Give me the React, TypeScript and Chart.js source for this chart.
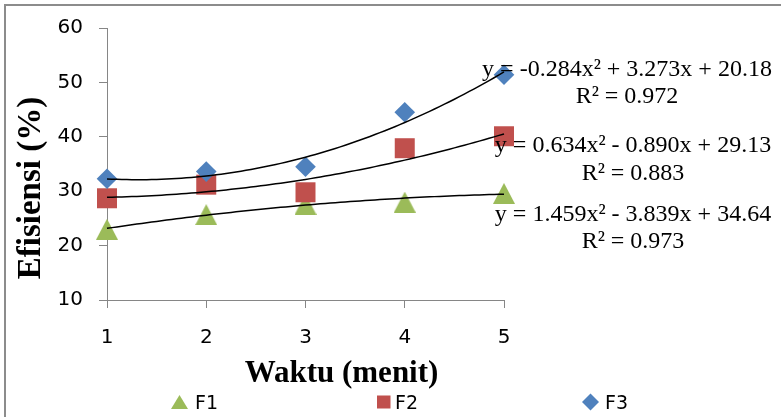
import React, { useEffect, useRef } from 'react';
import { Chart, registerables } from 'chart.js';

Chart.register(...registerables);

// ---- data ----
const waktu = [1, 2, 3, 4, 5];
const f1 = [23.0, 25.7, 27.6, 28.0, 29.6];
const f2 = [28.7, 31.2, 29.8, 37.9, 40.1];
const f3 = [32.3, 33.6, 34.5, 44.5, 51.4];
// polynomial trendline coefficients [a, b, c] for y = a x^2 + b x + c
const trendF1 = [-0.284, 3.273, 20.18];
const trendF2 = [0.634, -0.89, 29.13];
const trendF3 = [1.459, -3.839, 34.64];
const yTicks = [10, 20, 30, 40, 50, 60];
const xTicks = [1, 2, 3, 4, 5];
const seriesNames = ['F1', 'F2', 'F3'];
const equationTexts = [
  'y = -0.284x² + 3.273x + 20.18',
  'y = 0.634x² - 0.890x + 29.13',
  'y = 1.459x² - 3.839x + 34.64',
];
const r2Texts = ['R² = 0.972', 'R² = 0.883', 'R² = 0.973'];
const xTitle = 'Waktu (menit)';
const yTitle = 'Efisiensi (%)';

const GREEN = '#9BBB59';
const RED = '#C0504D';
const BLUE = '#4F81BD';
const AXIS = '#868686';

function makeTriangle(w: number, h: number, color: string) {
  const c = document.createElement('canvas');
  c.width = w;
  c.height = h;
  const g = c.getContext('2d')!;
  g.fillStyle = color;
  g.beginPath();
  g.moveTo(w / 2, 0);
  g.lineTo(w, h);
  g.lineTo(0, h);
  g.closePath();
  g.fill();
  return c;
}

function trendPoints(c: number[]) {
  const pts: { x: number; y: number }[] = [];
  const lo = waktu[0];
  const hi = waktu[waktu.length - 1];
  const n = 80;
  for (let i = 0; i <= n; i++) {
    const x = lo + ((hi - lo) * i) / n;
    pts.push({ x, y: c[0] * x * x + c[1] * x + c[2] });
  }
  return pts;
}

const overlay = {
  id: 'overlay',
  beforeDraw(chart: any) {
    const ctx = chart.ctx as CanvasRenderingContext2D;
    ctx.save();
    ctx.fillStyle = '#ffffff';
    ctx.fillRect(0, 0, chart.width, chart.height);
    ctx.fillStyle = '#8c8c8c';
    ctx.fillRect(4, 4, chart.width - 4, 2);
    ctx.fillRect(4, 4, 2, chart.height - 4);
    ctx.restore();
  },
  afterDraw(chart: any) {
    const ctx = chart.ctx as CanvasRenderingContext2D;
    ctx.save();
    ctx.fillStyle = '#000000';
    // trendline equations
    ctx.font = '24px "Liberation Serif"';
    ctx.textAlign = 'center';
    ctx.textBaseline = 'alphabetic';
    const eqPos = [
      [627, 76, 103],
      [633, 152, 180],
      [633, 221, 248],
    ];
    equationTexts.forEach((t, i) => {
      ctx.fillText(t, eqPos[i][0], eqPos[i][1]);
      ctx.fillText(r2Texts[i], eqPos[i][0], eqPos[i][2]);
    });
    // axis titles
    ctx.font = 'bold 31px "Liberation Serif"';
    ctx.fillText(xTitle, 341.5, 382);
    ctx.save();
    ctx.font = 'bold 33px "Liberation Serif"';
    ctx.translate(31, 188);
    ctx.rotate(-Math.PI / 2);
    ctx.textBaseline = 'middle';
    ctx.fillText(yTitle, 0, 0);
    ctx.restore();
    // legend
    const ly = 402;
    ctx.fillStyle = GREEN;
    ctx.beginPath();
    ctx.moveTo(179.5, ly - 7);
    ctx.lineTo(188, ly + 7);
    ctx.lineTo(171, ly + 7);
    ctx.closePath();
    ctx.fill();
    ctx.fillStyle = RED;
    ctx.fillRect(377, ly - 6.5, 13.5, 13);
    ctx.fillStyle = BLUE;
    ctx.beginPath();
    ctx.moveTo(590.5, ly - 8.5);
    ctx.lineTo(599, ly);
    ctx.lineTo(590.5, ly + 8.5);
    ctx.lineTo(582, ly);
    ctx.closePath();
    ctx.fill();
    ctx.fillStyle = '#000000';
    ctx.font = '19px "DejaVu Sans"';
    ctx.textAlign = 'left';
    ctx.textBaseline = 'alphabetic';
    const lx = [195, 395, 605];
    seriesNames.forEach((n, i) => ctx.fillText(n, lx[i], 408.5));
    ctx.restore();
  },
};

export default function App() {
  const ref = useRef<HTMLCanvasElement | null>(null);
  useEffect(() => {
    document.body.style.margin = '0';
    const canvas = ref.current!;
    const tri = makeTriangle(22, 21, GREEN);
    const toXY = (arr: number[]) => arr.map((v, i) => ({ x: waktu[i], y: v }));
    const trendDs = (c: number[]) => ({
      label: 'trend',
      data: trendPoints(c),
      showLine: true,
      borderColor: '#000000',
      borderWidth: 1.5,
      pointRadius: 0,
      pointHoverRadius: 0,
      fill: false,
      tension: 0,
      clip: false,
      order: 0,
    });
    const chart = new Chart(canvas, {
      type: 'scatter',
      data: {
        datasets: [
          {
            label: seriesNames[0],
            data: toXY(f1),
            pointStyle: tri as any,
            backgroundColor: GREEN,
            borderColor: GREEN,
            pointBorderWidth: 0,
            clip: false,
            order: 3,
          },
          {
            label: seriesNames[1],
            data: toXY(f2),
            pointStyle: 'rect',
            pointRadius: 14.14,
            backgroundColor: RED,
            borderColor: RED,
            pointBorderWidth: 0,
            clip: false,
            order: 2,
          },
          {
            label: seriesNames[2],
            data: toXY(f3),
            pointStyle: 'rectRot',
            pointRadius: 10.3,
            backgroundColor: BLUE,
            borderColor: BLUE,
            pointBorderWidth: 0,
            clip: false,
            order: 1,
          },
          trendDs(trendF1) as any,
          trendDs(trendF2) as any,
          trendDs(trendF3) as any,
        ],
      },
      options: {
        animation: false,
        responsive: false,
        maintainAspectRatio: false,
        layout: { padding: { left: 0, top: 22, right: 0, bottom: 0 } },
        plugins: {
          legend: { display: false },
          tooltip: { enabled: false },
          title: { display: false },
        },
        scales: {
          x: {
            type: 'linear',
            position: 'bottom',
            min: 1,
            max: 5,
            afterBuildTicks: (s: any) => {
              s.ticks = xTicks.map((v) => ({ value: v }));
            },
            afterFit: (s: any) => {
              s.height = 117;
            },
            ticks: {
              color: '#000000',
              font: { family: 'DejaVu Sans', size: 20 },
              padding: 18,
              maxRotation: 0,
            },
            grid: {
              drawOnChartArea: false,
              drawTicks: true,
              tickLength: 8,
              color: AXIS,
              lineWidth: 1,
            },
            border: { display: true, color: AXIS, width: 1 },
          },
          y: {
            type: 'linear',
            position: 'left',
            min: 10,
            max: 60,
            afterBuildTicks: (s: any) => {
              s.ticks = yTicks.map((v) => ({ value: v }));
            },
            afterFit: (s: any) => {
              s.width = 107;
            },
            ticks: {
              color: '#000000',
              font: { family: 'DejaVu Sans', size: 20 },
              padding: 16,
            },
            grid: {
              drawOnChartArea: false,
              drawTicks: true,
              tickLength: 8,
              color: AXIS,
              lineWidth: 1,
            },
            border: { display: true, color: AXIS, width: 1 },
          },
          yRight: {
            type: 'linear',
            position: 'right',
            min: 10,
            max: 60,
            display: true,
            afterFit: (s: any) => {
              s.width = 277;
            },
            ticks: { display: false },
            grid: { display: false, drawTicks: false },
            border: { display: false },
          },
        },
      } as any,
      plugins: [overlay],
    });
    return () => chart.destroy();
  }, []);
  return (
    <div style={{ width: 781, height: 417, position: 'relative' }}>
      <canvas ref={ref} width={781} height={417} style={{ display: 'block' }} />
    </div>
  );
}
